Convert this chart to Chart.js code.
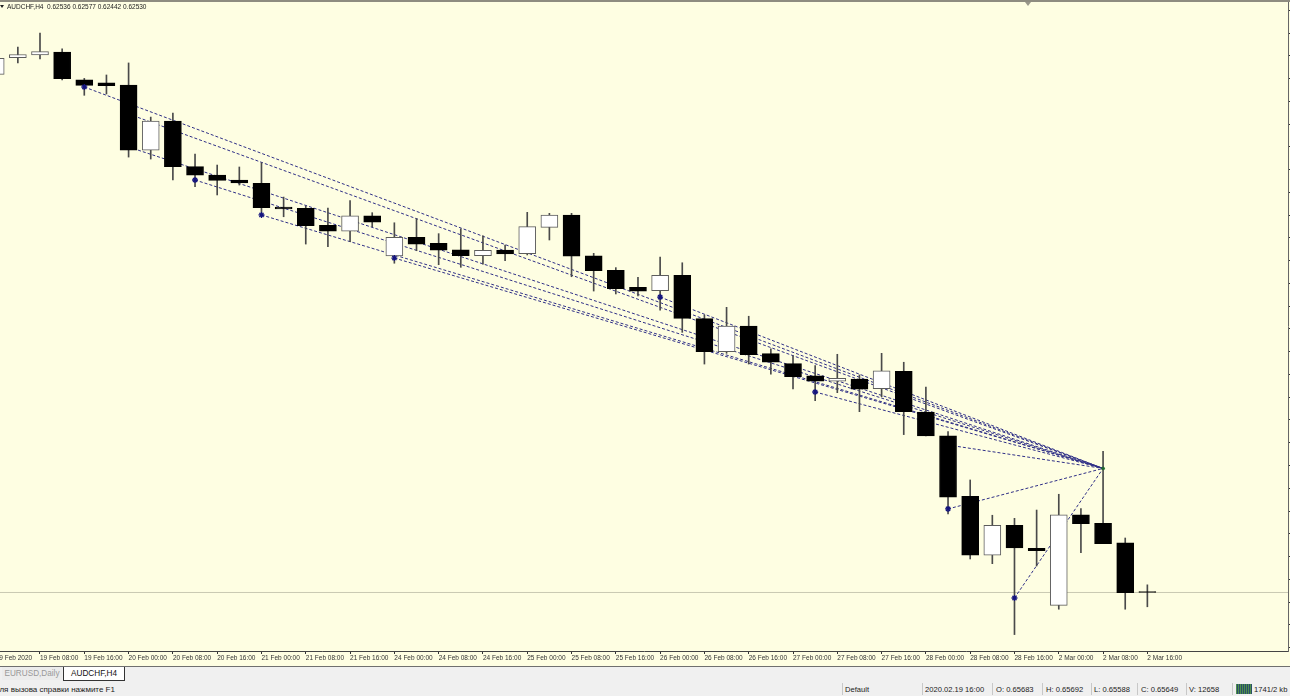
<!DOCTYPE html>
<html>
<head>
<meta charset="utf-8">
<title>AUDCHF,H4</title>
<script src="https://cdn.jsdelivr.net/npm/chart.js@4"></script>
<style>
  html, body { margin: 0; padding: 0; width: 1290px; height: 696px; overflow: hidden; background: #f0f0f0; }
  body { position: relative; font-family: "Liberation Sans", sans-serif; color: #222; }
  #myChart { position: absolute; left: 0; top: 0; background: #fefee2; }
  .abs { position: absolute; white-space: nowrap; }
  #topline { left: 0; top: 0; width: 1290px; height: 2px; background: #8e8c80; }
  #shift { left: 1025px; top: 2px; width: 0; height: 0; border: 3px solid transparent; border-top: 4px solid #99978a; }
  #menu { left: 0; top: 5px; width: 0; height: 0; border: 2px solid transparent; border-top: 3px solid #222; }
  #info { left: 7px; top: 2px; font-size: 6.5px; line-height: 9px; color: #222; }
  #tabline { left: 0; top: 666px; width: 1290px; height: 1px; background: #6f6f6f; }
  .tab { top: 667px; height: 13px; line-height: 13px; font-size: 8.2px; text-align: center; }
  #tab1 { left: 2px; width: 60px; color: #999; background: #ececec; }
  #tab2 { left: 63px; width: 60px; background: #fff; color: #111; border: 1px solid #333; border-top: none; }
  .status { top: 683px; font-size: 7.6px; line-height: 13px; color: #222; }
  .sep { top: 683px; width: 1px; height: 12px; background: #c8c8c8; }
  #meter { left: 1236px; top: 684px; width: 16px; height: 10px; background: repeating-linear-gradient(90deg, #4f8f4a 0 1px, #2a4f6a 1px 2px); }
</style>
</head>
<body>
<canvas id="myChart" width="1290" height="667"></canvas>
<div class="abs" id="topline"></div>
<div class="abs" id="shift"></div>
<div class="abs" id="menu"></div>
<div class="abs" id="info">AUDCHF,H4&nbsp; 0.62536 0.62577 0.62442 0.62530</div>
<div class="abs" id="tabline"></div>
<div class="abs tab" id="tab1">EURUSD,Daily</div>
<div class="abs tab" id="tab2">AUDCHF,H4</div>
<div class="abs status" style="left:-6px;font-size:8px">Для вызова справки нажмите F1</div>
<div class="abs sep" style="left:842px"></div>
<div class="abs status" style="left:845px">Default</div>
<div class="abs sep" style="left:922px"></div>
<div class="abs status" style="left:925px">2020.02.19 16:00</div>
<div class="abs sep" style="left:992px"></div>
<div class="abs status" style="left:996px">O: 0.65683</div>
<div class="abs sep" style="left:1042px"></div>
<div class="abs status" style="left:1046px">H: 0.65692</div>
<div class="abs sep" style="left:1091px"></div>
<div class="abs status" style="left:1094px">L: 0.65588</div>
<div class="abs sep" style="left:1137px"></div>
<div class="abs status" style="left:1141px">C: 0.65649</div>
<div class="abs sep" style="left:1186px"></div>
<div class="abs status" style="left:1189px">V: 12658</div>
<div class="abs sep" style="left:1232px"></div>
<div class="abs" id="meter"></div>
<div class="abs status" style="left:1254px">1741/2 kb</div>

<script>
// H4 bars, one entry per bar index
let opens = [0.65717, 0.65820, 0.65836, 0.65854, 0.65683, 0.65664, 0.65651, 0.65250, 0.65430, 0.65149,
    0.65098, 0.65067, 0.65047, 0.64901, 0.64893, 0.64788, 0.64752, 0.64846, 0.64600, 0.64715,
    0.64678, 0.64638, 0.64601, 0.64636, 0.64614, 0.64776, 0.64852, 0.64600, 0.64512, 0.64407,
    0.64386, 0.64481, 0.64214, 0.64011, 0.64169, 0.63999, 0.63938, 0.63862, 0.63829, 0.63843,
    0.63783, 0.63890, 0.63640, 0.63494, 0.63122, 0.62759, 0.62943, 0.62802, 0.62451, 0.63007,
    0.62956, 0.62836, 0.62536];
let highs = [0.65817, 0.65885, 0.65971, 0.65874, 0.65692, 0.65713, 0.65787, 0.65454, 0.65479, 0.65227,
    0.65159, 0.65147, 0.65173, 0.64962, 0.64907, 0.64895, 0.64940, 0.64866, 0.64804, 0.64829,
    0.64737, 0.64767, 0.64723, 0.64667, 0.64868, 0.64862, 0.64862, 0.64616, 0.64528, 0.64469,
    0.64593, 0.64558, 0.64237, 0.64284, 0.64229, 0.64029, 0.63986, 0.63925, 0.63995, 0.63868,
    0.64001, 0.63946, 0.63794, 0.63519, 0.63222, 0.63005, 0.62986, 0.63037, 0.63134, 0.63046,
    0.63398, 0.62865, 0.62577];
let lows = [0.65713, 0.65787, 0.65811, 0.65682, 0.65588, 0.65596, 0.65208, 0.65196, 0.65067, 0.65026,
    0.64975, 0.65036, 0.64846, 0.64841, 0.64673, 0.64657, 0.64688, 0.64780, 0.64555, 0.64632,
    0.64546, 0.64530, 0.64550, 0.64571, 0.64606, 0.64698, 0.64472, 0.64384, 0.64366, 0.64354,
    0.64267, 0.64130, 0.63935, 0.64001, 0.63935, 0.63872, 0.63782, 0.63710, 0.63759, 0.63642,
    0.63734, 0.63501, 0.63493, 0.63013, 0.62736, 0.62707, 0.62271, 0.62693, 0.62427, 0.62775,
    0.62830, 0.62427, 0.62442];
let closes = [0.65815, 0.65839, 0.65857, 0.65690, 0.65649, 0.65647, 0.65250, 0.65430, 0.65149, 0.65096,
    0.65065, 0.65049, 0.64897, 0.64889, 0.64786, 0.64752, 0.64847, 0.64807, 0.64715, 0.64673,
    0.64636, 0.64601, 0.64635, 0.64612, 0.64780, 0.64852, 0.64598, 0.64509, 0.64398, 0.64384,
    0.64481, 0.64216, 0.64011, 0.64169, 0.63993, 0.63946, 0.63857, 0.63829, 0.63847, 0.63780,
    0.63894, 0.63642, 0.63493, 0.63116, 0.62759, 0.62943, 0.62804, 0.62787, 0.63007, 0.62953,
    0.62830, 0.62529, 0.62530];

// time labels, one for every second bar
let timeLabels = ['19 Feb 2020', '19 Feb 08:00', '19 Feb 16:00', '20 Feb 00:00', '20 Feb 08:00', '20 Feb 16:00',
    '21 Feb 00:00', '21 Feb 08:00', '21 Feb 16:00', '24 Feb 00:00', '24 Feb 08:00', '24 Feb 16:00',
    '25 Feb 00:00', '25 Feb 08:00', '25 Feb 16:00', '26 Feb 00:00', '26 Feb 08:00', '26 Feb 16:00',
    '27 Feb 00:00', '27 Feb 08:00', '27 Feb 16:00', '28 Feb 00:00', '28 Feb 08:00', '28 Feb 16:00',
    '2 Mar 00:00', '2 Mar 08:00', '2 Mar 16:00'];

let priceTicks = [0.66111, 0.65971, 0.65831, 0.65691, 0.65551, 0.65411, 0.65271, 0.65131, 0.64991, 0.64851,
    0.64711, 0.64571, 0.64431, 0.64291, 0.64151, 0.64011, 0.63871, 0.63731, 0.63591, 0.63451,
    0.63311, 0.63171, 0.63031, 0.62891, 0.62751, 0.62611, 0.62471, 0.62331, 0.62191];

// dashed trend lines all run from a start point to the common end point
let lineStartBars = [4, 6, 6, 9, 12, 18, 30, 37, 43, 43, 46];
let lineStartPrices = [0.65639, 0.65473, 0.65270, 0.65067, 0.64852, 0.64587, 0.64347, 0.63763, 0.63437, 0.63044, 0.62496];
let lineEndBar = 50;
let lineEndPrice = 0.63293;

// bar indexes of the blue star marks and their prices
let starBars = [4, 9, 12, 18, 30, 37, 43, 46];
let starPrices = [0.65639, 0.65067, 0.64852, 0.64587, 0.64347, 0.63763, 0.63044, 0.62496];

let lastPrice = 0.62530;

let xMin = 0.194;
let xMax = 58.35;

let datasets = [];

lineStartBars.forEach(function (bar, k) {
    datasets.push({
        type: 'line',
        data: [{x: bar, y: lineStartPrices[k]}, {x: lineEndBar, y: lineEndPrice}],
        borderColor: '#2f2f86',
        borderWidth: 1,
        borderDash: [3, 2],
        pointRadius: 0,
        order: 4
    });
});

// current price line
datasets.push({
    type: 'line',
    data: [{x: xMin, y: lastPrice}, {x: xMax, y: lastPrice}],
    borderColor: '#c9c9b2',
    borderWidth: 1,
    pointRadius: 0,
    order: 5
});

datasets.push({
    type: 'bar',
    data: opens.map(function (o, i) { return {x: i, y: [lows[i], highs[i]]}; }),
    backgroundColor: '#4a4a4a',
    barThickness: 1,
    grouped: false,
    order: 3
});

datasets.push({
    type: 'bar',
    data: opens.map(function (o, i) { return {x: i, y: [o, closes[i]]}; }),
    backgroundColor: opens.map(function (o, i) { return closes[i] > o ? '#ffffff' : '#000000'; }),
    borderColor: opens.map(function (o, i) { return closes[i] > o ? '#5c5c5c' : '#000000'; }),
    borderWidth: 1,
    borderSkipped: false,
    barThickness: 17,
    grouped: false,
    order: 2
});

datasets.push({
    type: 'line',
    data: starBars.map(function (bar, k) { return {x: bar, y: starPrices[k]}; }),
    showLine: false,
    pointStyle: 'star',
    pointRadius: 3,
    pointBorderWidth: 1.3,
    pointBorderColor: '#14147e',
    order: 1
});

datasets.push({
    type: 'line',
    data: [{x: lineEndBar, y: lineEndPrice}],
    showLine: false,
    pointStyle: 'star',
    pointRadius: 2,
    pointBorderWidth: 1,
    pointBorderColor: '#1c6a2c',
    order: 0
});

let ctx = document.getElementById('myChart').getContext('2d');
let chart1 = new Chart(ctx, {
    type: 'bar',
    data: {datasets: datasets},
    options: {
        responsive: false,
        animation: false,
        events: [],
        layout: {autoPadding: false, padding: {top: 1}},
        plugins: {
            legend: {display: false},
            tooltip: {enabled: false}
        },
        scales: {
            x: {
                type: 'linear',
                offset: false,
                min: xMin,
                max: xMax,
                afterBuildTicks: function (scale) {
                    scale.ticks = timeLabels.map(function (t, k) { return {value: k * 2}; });
                },
                afterFit: function (scale) {
                    scale.height = 16;
                    scale.paddingLeft = 0;
                    scale.paddingRight = 0;
                },
                grid: {
                    offset: false,
                    drawOnChartArea: false,
                    tickLength: 3,
                    tickColor: '#333333'
                },
                border: {color: '#444444'},
                ticks: {
                    autoSkip: false,
                    maxRotation: 0,
                    align: 'start',
                    padding: 0,
                    color: '#333333',
                    font: {family: 'Liberation Sans', size: 6.5},
                    callback: function (value) { return timeLabels[value / 2]; }
                }
            },
            y: {
                position: 'right',
                min: 0.62170,
                max: 0.66168,
                afterBuildTicks: function (scale) {
                    scale.ticks = priceTicks.map(function (p) { return {value: p}; });
                },
                afterFit: function (scale) {
                    scale.width = 2;
                    scale.paddingTop = 0;
                    scale.paddingBottom = 0;
                },
                grid: {
                    drawOnChartArea: false,
                    tickLength: 2,
                    tickColor: '#333333'
                },
                border: {color: '#666666'},
                ticks: {display: false}
            }
        }
    }
});
</script>
</body>
</html>
